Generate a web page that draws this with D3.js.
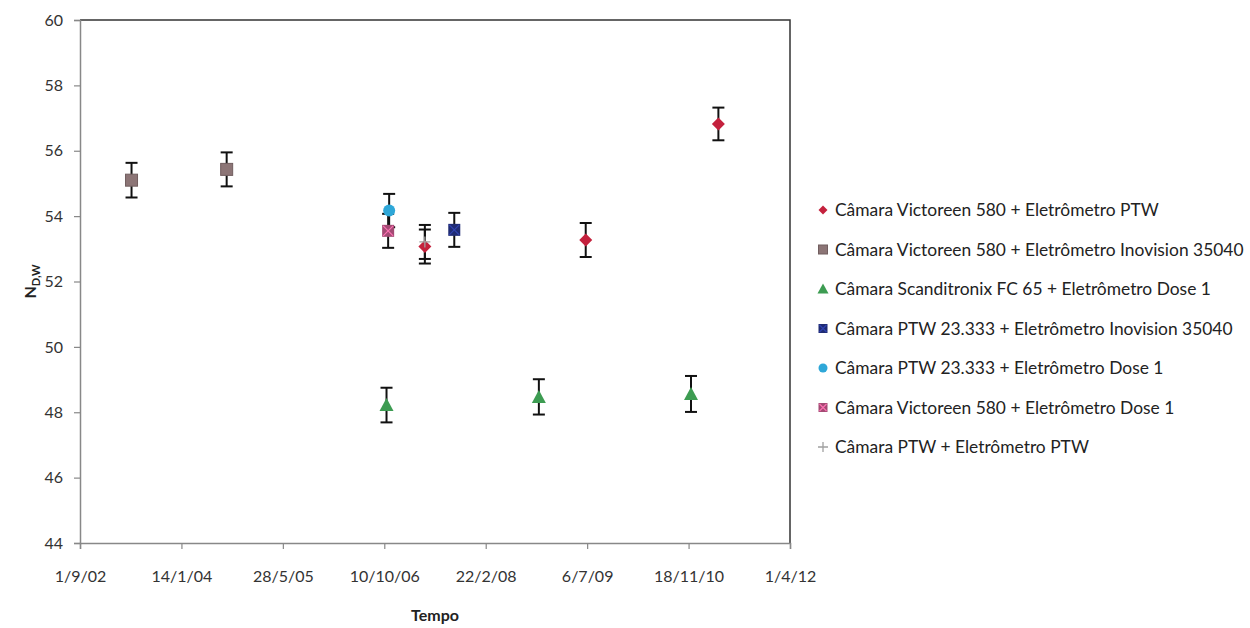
<!DOCTYPE html>
<html>
<head>
<meta charset="utf-8">
<script src="https://cdn.jsdelivr.net/npm/d3@7"></script>
<style>
  body { margin: 0; background: #fff; }
  svg { font-family: Lato, "Liberation Sans", sans-serif; }
</style>
</head>
<body>
<div id="chart"></div>
<script>
// series names, shown in the legend
const seriesNames = [
  "Câmara Victoreen 580 + Eletrômetro PTW",
  "Câmara Victoreen 580 + Eletrômetro Inovision 35040",
  "Câmara Scanditronix FC 65 + Eletrômetro Dose 1",
  "Câmara PTW 23.333 + Eletrômetro Inovision 35040",
  "Câmara PTW 23.333 + Eletrômetro Dose 1",
  "Câmara Victoreen 580 + Eletrômetro Dose 1",
  "Câmara PTW + Eletrômetro PTW"
];

// dates and N_D,W values, with error bar half-widths
const victoreenPtwDates = ["2007-04-28", "2009-06-29", "2011-04-14"];
const victoreenPtwValues = [53.07, 53.27, 56.82];
const victoreenPtwErr = [0.52, 0.52, 0.5];

const victoreenInoDates = ["2003-05-13", "2004-08-24"];
const victoreenInoValues = [55.1, 55.43];
const victoreenInoErr = [0.53, 0.52];

const scandDoseDates = ["2006-10-21", "2008-11-10", "2010-11-30"];
const scandDoseValues = [48.22, 48.47, 48.56];
const scandDoseErr = [0.53, 0.54, 0.55];

const ptw333InoDates = ["2007-09-20"];
const ptw333InoValues = [53.58];
const ptw333InoErr = [0.52];

const ptw333DoseDates = ["2006-11-03"];
const ptw333DoseValues = [54.17];
const ptw333DoseErr = [0.51];

const victoreenDoseDates = ["2006-10-29"];
const victoreenDoseValues = [53.55];
const victoreenDoseErr = [0.52];

const ptwPtwDates = ["2007-04-28"];
const ptwPtwValues = [53.21];
const ptwPtwErr = [0.52];

const xTickDates = ["2002-09-01", "2004-01-14", "2005-05-28", "2006-10-10",
                    "2008-02-22", "2009-07-06", "2010-11-18", "2012-04-01"];
const yTicks = [44, 46, 48, 50, 52, 54, 56, 58, 60];

const parse = d3.utcParse("%Y-%m-%d");
const fmt = d3.utcFormat("%-d/%-m/%y");

function makeSeries(dates, values, errs) {
  return dates.map((d, i) => ({ date: parse(d), v: values[i], e: errs[i] }));
}

const series = [
  { name: seriesNames[0], shape: "diamond", color: "#c4213d", pts: makeSeries(victoreenPtwDates, victoreenPtwValues, victoreenPtwErr) },
  { name: seriesNames[1], shape: "square", color: "#8c7576", pts: makeSeries(victoreenInoDates, victoreenInoValues, victoreenInoErr) },
  { name: seriesNames[2], shape: "triangle", color: "#3d9c52", pts: makeSeries(scandDoseDates, scandDoseValues, scandDoseErr) },
  { name: seriesNames[3], shape: "bowtie", color: "#1f2b73", pts: makeSeries(ptw333InoDates, ptw333InoValues, ptw333InoErr) },
  { name: seriesNames[4], shape: "circle", color: "#2ea7d8", pts: makeSeries(ptw333DoseDates, ptw333DoseValues, ptw333DoseErr) },
  { name: seriesNames[5], shape: "bowtie", color: "#a44a74", pts: makeSeries(victoreenDoseDates, victoreenDoseValues, victoreenDoseErr) },
  { name: seriesNames[6], shape: "plus", color: "#a0a0a0", pts: makeSeries(ptwPtwDates, ptwPtwValues, ptwPtwErr) }
];

const width = 1250, height = 628;
const plot = { left: 80, right: 790, top: 20, bottom: 543 };

const svg = d3.select("#chart").append("svg")
  .attr("width", width)
  .attr("height", height);

const x = d3.scaleUtc()
  .domain([parse(xTickDates[0]), parse(xTickDates[xTickDates.length - 1])])
  .range([plot.left, plot.right]);

const y = d3.scaleLinear()
  .domain([44, 60])
  .range([plot.bottom, plot.top]);

// plot area frame (top and right)
svg.append("path")
  .attr("d", `M${plot.left},${plot.top}H${plot.right}V${plot.bottom}`)
  .attr("fill", "none")
  .attr("stroke", "#333")
  .attr("stroke-width", 1.5);

// axes
const xAxis = svg.append("g")
  .attr("transform", `translate(0,${plot.bottom})`)
  .call(d3.axisBottom(x)
    .tickValues(xTickDates.map(parse))
    .tickFormat(fmt)
    .tickSize(6)
    .tickPadding(22));

const yAxis = svg.append("g")
  .attr("transform", `translate(${plot.left},0)`)
  .call(d3.axisLeft(y)
    .tickValues(yTicks)
    .tickSize(6)
    .tickPadding(11));

[xAxis, yAxis].forEach(g => {
  g.select(".domain").attr("stroke", "#888").attr("stroke-width", 1.5);
  g.selectAll(".tick line").attr("stroke", "#888").attr("stroke-width", 1.2);
  g.selectAll(".tick text")
    .attr("fill", "#333")
    .style("font-size", "16px")
    .style("font-family", "Lato, sans-serif");
});
xAxis.selectAll(".tick line").attr("y1", 0).attr("y2", 6);

// axis titles
svg.append("text")
  .attr("x", (plot.left + plot.right) / 2)
  .attr("y", 621)
  .attr("text-anchor", "middle")
  .style("font-size", "16px")
  .style("font-weight", "bold")
  .attr("fill", "#222")
  .text("Tempo");

const yTitle = svg.append("text")
  .attr("transform", `translate(36,${(plot.top + plot.bottom) / 2}) rotate(-90)`)
  .attr("text-anchor", "middle")
  .style("font-size", "16px")
  .style("font-weight", "bold")
  .attr("fill", "#222");
yTitle.append("tspan").text("N");
yTitle.append("tspan").attr("dy", 4).style("font-size", "11px").text("D,W");

// marker drawing
function drawMarker(g, shape, color, s) {
  const h = s / 2;
  if (shape === "diamond") {
    g.append("path").attr("d", `M0,${-h}L${h},0L0,${h}L${-h},0Z`).attr("fill", color);
  } else if (shape === "square") {
    g.append("rect").attr("x", -h).attr("y", -h).attr("width", s).attr("height", s)
      .attr("fill", color).attr("stroke", d3.color(color).darker(0.6)).attr("stroke-width", 1);
  } else if (shape === "triangle") {
    g.append("path").attr("d", `M0,${-h - 1}L${h + 1},${h}L${-h - 1},${h}Z`).attr("fill", color);
  } else if (shape === "circle") {
    g.append("circle").attr("r", h).attr("fill", color);
  } else if (shape === "bowtie") {
    g.append("rect").attr("x", -h).attr("y", -h).attr("width", s).attr("height", s).attr("fill", color);
    g.append("path").attr("d", `M${-h + 1},${-h + 1}L${h - 1},${h - 1}M${h - 1},${-h + 1}L${-h + 1},${h - 1}`)
      .attr("stroke", d3.color(color).brighter(1.2)).attr("stroke-width", 1.2);
  } else if (shape === "plus") {
    g.append("path").attr("d", `M${-h},0H${h}M0,${-h}V${h}`).attr("stroke", color).attr("stroke-width", 1.3);
  }
}

const markerSize = { diamond: 13, square: 12, triangle: 12, circle: 12, bowtie: 12, plus: 11 };

// error bars first, then markers on top
const marks = svg.append("g");
series.forEach(sr => {
  sr.pts.forEach(p => {
    const cx = x(p.date);
    const eb = marks.append("g").attr("stroke", "#111").attr("stroke-width", 2);
    eb.append("line").attr("x1", cx).attr("x2", cx).attr("y1", y(p.v + p.e)).attr("y2", y(p.v - p.e));
    eb.append("line").attr("x1", cx - 6).attr("x2", cx + 6).attr("y1", y(p.v + p.e)).attr("y2", y(p.v + p.e));
    eb.append("line").attr("x1", cx - 6).attr("x2", cx + 6).attr("y1", y(p.v - p.e)).attr("y2", y(p.v - p.e));
  });
});
series.forEach(sr => {
  sr.pts.forEach(p => {
    const g = marks.append("g").attr("transform", `translate(${x(p.date)},${y(p.v)})`);
    drawMarker(g, sr.shape, sr.color, markerSize[sr.shape]);
  });
});

// legend
const legend = svg.append("g");
series.forEach((sr, i) => {
  const ly = 210 + i * 39.5;
  const g = legend.append("g").attr("transform", `translate(823,${ly})`);
  drawMarker(g, sr.shape, sr.color, sr.shape === "plus" ? 10 : 9);
  legend.append("text")
    .attr("x", 835)
    .attr("y", ly)
    .attr("dy", "0.35em")
    .style("font-size", "17.4px")
    .attr("fill", "#222")
    .text(sr.name);
});
</script>
</body>
</html>
